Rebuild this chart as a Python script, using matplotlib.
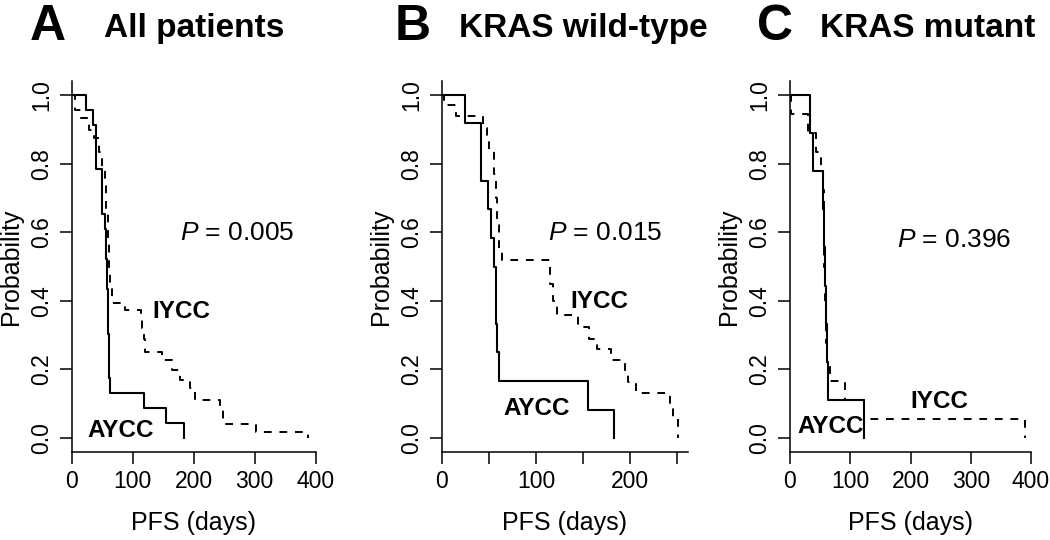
import matplotlib
matplotlib.use("agg")
import matplotlib.pyplot as plt

plt.rcParams['font.family'] = ['Liberation Sans', 'DejaVu Sans']
plt.rcParams['mathtext.fontset'] = 'custom'
plt.rcParams['mathtext.it'] = 'Liberation Sans:italic'
plt.rcParams['mathtext.rm'] = 'Liberation Sans'

# panel A: all patients
a_aycc_t = [0, 23, 35, 40, 50, 55, 56, 57, 58, 59, 60, 61, 62, 63, 119, 155, 184]
a_aycc_s = [1, 0.957, 0.913, 0.783, 0.652, 0.609, 0.565, 0.522, 0.435, 0.391, 0.304, 0.261, 0.174, 0.130, 0.087, 0.043, 0]
a_iycc_t = [0, 6, 15, 28, 36, 45, 50, 54, 57, 59, 61, 63, 66, 88, 113, 116, 118, 121, 148, 164, 178, 194, 202, 243, 248, 303, 387]
a_iycc_s = [1, 0.956, 0.932, 0.898, 0.875, 0.834, 0.79, 0.74, 0.66, 0.58, 0.50, 0.44, 0.393, 0.373, 0.35, 0.32, 0.29, 0.252, 0.227, 0.198, 0.169, 0.146, 0.11, 0.085, 0.041, 0.018, 0]

# panel B: KRAS wild-type
b_aycc_t = [0, 24, 41.5, 49, 52, 55, 57, 59, 61, 155, 183]
b_aycc_s = [1, 0.917, 0.75, 0.667, 0.583, 0.5, 0.333, 0.25, 0.167, 0.083, 0]
b_iycc_t = [0, 2, 15, 44, 48, 50, 55, 57, 59, 61, 63.5, 115, 118, 122, 145, 157, 165, 180, 195, 198, 207, 243, 246, 251]
b_iycc_s = [1, 0.971, 0.939, 0.905, 0.87, 0.84, 0.77, 0.70, 0.62, 0.55, 0.519, 0.45, 0.40, 0.359, 0.325, 0.29, 0.26, 0.227, 0.193, 0.164, 0.13, 0.097, 0.062, 0]

# panel C: KRAS mutant
c_aycc_t = [0, 33, 39, 55, 57, 58, 59, 61, 62.5, 122]
c_aycc_s = [1, 0.889, 0.778, 0.667, 0.556, 0.444, 0.333, 0.222, 0.111, 0]
c_iycc_t = [0, 1, 30, 43, 51, 55, 56, 57, 58, 59, 60, 62, 67, 92, 122, 390]
c_iycc_s = [1, 0.944, 0.889, 0.833, 0.778, 0.722, 0.611, 0.5, 0.389, 0.333, 0.278, 0.222, 0.167, 0.111, 0.056, 0]

letters = ['A', 'B', 'C']
titles = ['All patients', 'KRAS wild-type', 'KRAS mutant']
pvals = ['0.005', '0.015', '0.396']

W, H = 1050., 540.
fig = plt.figure(figsize=(10.5, 5.4), dpi=100)

def px_axes(left, right, bottom, top):
    return fig.add_axes([left/W, 1-bottom/H, (right-left)/W, (bottom-top)/H])

def ftext(x, y, s, **kw):
    # place text in pixel coords from the top-left corner
    return fig.text(x/W, 1 - y/H, s, **kw)

panels = [
    dict(box=(71.7, 315.5), xmax=400, xt=[0, 100, 200, 300, 400], xl=['0', '100', '200', '300', '400'],
         aycc=(a_aycc_t, a_aycc_s), iycc=(a_iycc_t, a_iycc_s),
         ppos=(180, 240), ipos=(152, 318), apos=(87, 437), lpos=(30, 40), tpos=(104, 37)),
    dict(box=(442, 688), xmax=262, xt=[0, 50, 100, 150, 200, 250], xl=['0', '', '100', '', '200', ''],
         aycc=(b_aycc_t, b_aycc_s), iycc=(b_iycc_t, b_iycc_s),
         ppos=(548, 240), ipos=(570, 308), apos=(503, 415), lpos=(395, 40), tpos=(459, 37)),
    dict(box=(790, 1031), xmax=400, xt=[0, 100, 200, 300, 400], xl=['0', '100', '200', '300', '400'],
         aycc=(c_aycc_t, c_aycc_s), iycc=(c_iycc_t, c_iycc_s),
         ppos=(897, 247), ipos=(910, 408), apos=(797, 433), lpos=(757, 40), tpos=(820, 37)),
]

for i, p in enumerate(panels):
    ax = px_axes(p['box'][0], p['box'][1], 451.7, 81.3)
    axw = p['box'][1] - p['box'][0]
    ax.set_xlim(0, p['xmax'])
    ax.set_ylim(-0.04, 1.04)
    ax.step(p['aycc'][0], p['aycc'][1], where='post', color='black', lw=1.5)
    ax.step(p['iycc'][0], p['iycc'][1], where='post', color='black', lw=1.4, dashes=(4, 4))
    for s in ['top', 'right']:
        ax.spines[s].set_visible(False)
    for s in ['left', 'bottom']:
        ax.spines[s].set_linewidth(1.1)
    ax.set_xticks(p['xt'])
    ax.set_xticklabels(p['xl'])
    ax.set_yticks([0, 0.2, 0.4, 0.6, 0.8, 1.0])
    ax.set_yticklabels(['0.0', '0.2', '0.4', '0.6', '0.8', '1.0'], rotation=90, va='center')
    ax.tick_params(axis='both', direction='out', length=8.5, width=1.1, labelsize=16.5, pad=5)
    ax.set_xlabel('PFS (days)', fontsize=18)
    ax.xaxis.set_label_coords(0.5, -0.16)
    ax.xaxis.label.set_va('top')
    ax.set_ylabel('Probability', fontsize=18)
    ax.yaxis.set_label_coords(-49 / axw, 0.5)

    ftext(*p['ppos'], r'$\mathit{P}$ = ' + pvals[i], fontsize=19, va='baseline')
    ftext(*p['ipos'], 'IYCC', fontsize=17.5, fontweight='bold', va='baseline')
    ftext(*p['apos'], 'AYCC', fontsize=17.5, fontweight='bold', va='baseline')
    ftext(*p['lpos'], letters[i], fontsize=36, fontweight='bold', va='baseline')
    ftext(*p['tpos'], titles[i], fontsize=24, fontweight='bold', va='baseline')

fig.savefig('out.png', dpi=100)
